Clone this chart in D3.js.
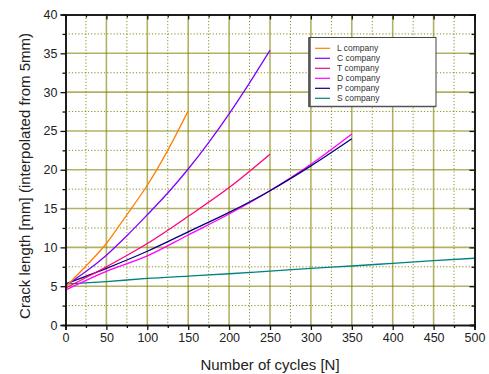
<!DOCTYPE html>
<html><head><meta charset="utf-8">
<script src="https://cdn.jsdelivr.net/npm/d3@7"></script>
<style>body{margin:0;background:#fff}svg{display:block}</style>
</head><body>
<script>
const cycles50 = [0,50,100,150,200,250,300,350,400,450,500];
const cycles25 = [0,25,50,75,100,125,150,175,200,225,250];
const seriesNames = ["L company","C company","T company","D company","P company","S company"];
const seriesColors = ["#ff8000","#8000ff","#ff0080","#ff00ff","#000080","#008080"];
const lCompanyN = [0,25,50,75,100,125,150];
const lCompany = [4.9,7.6,10.5,14.2,18.0,22.5,27.6];
const cCompanyN = cycles25;
const cCompany = [5.1,6.9,9.0,11.5,14.2,17.0,20.1,23.5,27.2,31.2,35.4];
const tCompanyN = [0,50,100,150,200,250];
const tCompany = [4.75,7.5,10.5,14.0,17.7,22.0];
const dCompanyN = [0,50,100,150,200,250,300,350];
const dCompany = [4.5,6.9,8.9,11.6,14.3,17.3,20.7,24.6];
const pCompanyN = [0,50,100,150,200,250,300,350];
const pCompany = [5.3,7.3,9.5,12.0,14.5,17.3,20.5,24.0];
const sCompanyN = cycles50;
const sCompany = [5.3,5.6,6.0,6.3,6.6,6.95,7.3,7.6,7.95,8.3,8.6];
const xTicks = [0,50,100,150,200,250,300,350,400,450,500];
const yTicks = [0,5,10,15,20,25,30,35,40];

const W=489,H=374;
const m={l:65.5,r:474.5,t:14.5,b:325};
const svg=d3.select("body").append("svg").attr("width",W).attr("height",H);
const x=d3.scaleLinear().domain([0,500]).range([m.l,m.r]);
const y=d3.scaleLinear().domain([0,40]).range([m.b,m.t]);
const font="Liberation Sans, Arial, sans-serif";
const olive="#808000";

// minor grid
const g=svg.append("g");
d3.range(25,500,50).forEach(v=>g.append("line").attr("x1",x(v)).attr("x2",x(v)).attr("y1",m.t).attr("y2",m.b)
  .attr("stroke",olive).attr("stroke-width",1).attr("stroke-dasharray","1.2,2").attr("opacity",0.9));
d3.range(2.5,40,5).forEach(v=>g.append("line").attr("y1",y(v)).attr("y2",y(v)).attr("x1",m.l).attr("x2",m.r)
  .attr("stroke",olive).attr("stroke-width",1).attr("stroke-dasharray","1.2,2").attr("opacity",0.9));
// major grid
xTicks.slice(1,-1).forEach(v=>g.append("line").attr("x1",x(v)).attr("x2",x(v)).attr("y1",m.t).attr("y2",m.b)
  .attr("stroke",olive).attr("stroke-width",1.6).attr("opacity",0.6));
yTicks.slice(1,-1).forEach(v=>g.append("line").attr("y1",y(v)).attr("y2",y(v)).attr("x1",m.l).attr("x2",m.r)
  .attr("stroke",olive).attr("stroke-width",1.6).attr("opacity",0.6));

// lines
const data=[[lCompanyN,lCompany],[cCompanyN,cCompany],[tCompanyN,tCompany],[dCompanyN,dCompany],[pCompanyN,pCompany],[sCompanyN,sCompany]];
const line=d3.line().x(d=>x(d[0])).y(d=>y(d[1])).curve(d3.curveMonotoneX);
const order=[5,3,4,2,1,0];
order.forEach(i=>{
  const pts=data[i][0].map((n,k)=>[n,data[i][1][k]]);
  svg.append("path").attr("d",line(pts)).attr("fill","none").attr("stroke",seriesColors[i]).attr("stroke-width",1.3);
});

// axes
const axL=d3.axisLeft(y).tickValues(yTicks).tickSize(5).tickPadding(3);
const gl=svg.append("g").attr("transform",`translate(${m.l},0)`).call(axL);
const axB=d3.axisBottom(x).tickValues(xTicks).tickSize(5).tickPadding(3);
const gb=svg.append("g").attr("transform",`translate(0,${m.b})`).call(axB);
const axT=d3.axisTop(x).tickValues(xTicks).tickSize(-5).tickFormat("");
const gt=svg.append("g").attr("transform",`translate(0,${m.t})`).call(axT);
const axR=d3.axisRight(y).tickValues(yTicks).tickSize(-5).tickFormat("");
const gr=svg.append("g").attr("transform",`translate(${m.r},0)`).call(axR);
// minor ticks
svg.append("g").attr("transform",`translate(${m.l},0)`).call(d3.axisLeft(y).tickValues(d3.range(2.5,40,5)).tickSize(3).tickFormat(""));
svg.append("g").attr("transform",`translate(0,${m.b})`).call(d3.axisBottom(x).tickValues(d3.range(25,500,50)).tickSize(3).tickFormat(""));
svg.append("g").attr("transform",`translate(0,${m.t})`).call(d3.axisTop(x).tickValues(d3.range(25,500,50)).tickSize(-3).tickFormat(""));
svg.append("g").attr("transform",`translate(${m.r},0)`).call(d3.axisRight(y).tickValues(d3.range(2.5,40,5)).tickSize(-3).tickFormat(""));
svg.selectAll(".domain").attr("stroke","#111").attr("stroke-width",1.5);
svg.selectAll(".tick line").attr("stroke","#111").attr("stroke-width",1.3);
svg.selectAll(".tick text").attr("font-family",font).attr("font-size",12.5).attr("fill","#222");

// titles
svg.append("text").attr("x",(m.l+m.r)/2).attr("y",370).attr("text-anchor","middle")
  .attr("font-family",font).attr("font-size",15).attr("fill","#222").text("Number of cycles [N]");
svg.append("text").attr("transform",`translate(30,176) rotate(-90)`).attr("text-anchor","middle")
  .attr("font-family",font).attr("font-size",15).attr("fill","#222").text("Crack length [mm] (interpolated from 5mm)");

// legend
const lg=svg.append("g");
lg.append("rect").attr("x",309).attr("y",37.5).attr("width",127).attr("height",69).attr("fill","#fff").attr("stroke","#444").attr("stroke-width",1);
lg.append("line").attr("x1",309.5).attr("x2",309.5).attr("y1",38).attr("y2",107).attr("stroke","#555").attr("stroke-width",2.5);
lg.append("line").attr("x1",309).attr("x2",436).attr("y1",106.5).attr("y2",106.5).attr("stroke","#555").attr("stroke-width",1.5);
seriesNames.forEach((s,i)=>{
  const yy=48.3+i*10;
  lg.append("line").attr("x1",315).attr("x2",330).attr("y1",yy).attr("y2",yy).attr("stroke",seriesColors[i]).attr("stroke-width",1.2);
  lg.append("text").attr("x",337).attr("y",yy+3).attr("font-family",font).attr("font-size",8.5).attr("fill","#333").text(s);
});
</script>
</body></html>
